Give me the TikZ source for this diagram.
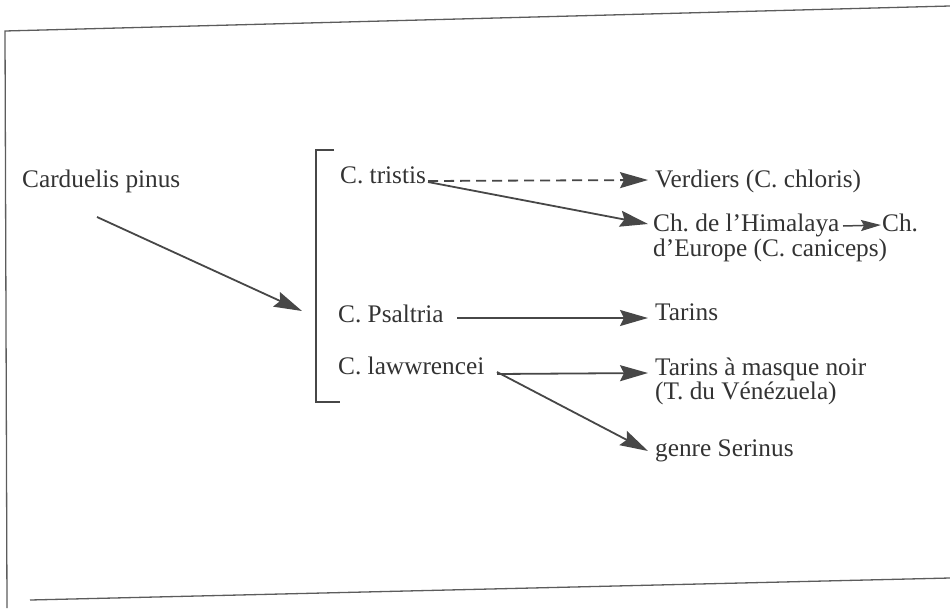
\documentclass[tikz,border=0pt]{standalone}
\usepackage{fontspec}
\setmainfont{Liberation Serif}
\usetikzlibrary{arrows.meta}
\definecolor{ink}{HTML}{333333}
\definecolor{wire}{HTML}{474747}
\frenchspacing
\begin{document}
\begin{tikzpicture}[x=1pt,y=-1pt,
  lbl/.style={anchor=base west,inner sep=0pt,text=ink,font=\fontsize{25.3}{27}\selectfont},
  link/.style={draw=wire,line width=1.8pt,-{Stealth[length=28pt,width=16pt,inset=4pt]}},
  frame/.style={draw=ink!80,line width=1.3pt}]
\useasboundingbox (0,0) rectangle (950,613);
% slightly skewed outer frame
\draw[frame] (950,6) -- (5,31) -- (7,608);
\draw[frame] (30,600) -- (950,578);

% labels
\node[lbl] (cp) at (22,187) {Carduelis pinus};
\node[lbl] (tri) at (340,183) {C. tristis};
\node[lbl] (ver) at (655,187) {Verdiers (C. chloris)};
\node[lbl] (him) at (653,231) {Ch. de l'Himalaya};
\node[lbl] (che) at (882,231) {Ch.};
\node[lbl] (eur) at (653,256) {d'Europe (C. caniceps)};
\node[lbl] (psa) at (338,322) {C. Psaltria};
\node[lbl] (tar) at (655,320) {Tarins};
\node[lbl] (law) at (338,374) {C. lawwrencei};
\node[lbl] (mas) at (655,375) {Tarins à masque noir};
\node[lbl] (ven) at (655,399) {(T. du Vénézuela)};
\node[lbl] (ser) at (655,456) {genre Serinus};

% bracket grouping the three species
\coordinate (bt) at (316,150);
\coordinate (bb) at (316,402);
\draw[draw=wire,line width=1.9pt] ([xshift=18pt]bt) -- (bt) -- (bb) -- ([xshift=24pt]bb);

% connector end points
\coordinate (cpS) at (97,217);
\coordinate (cpE) at (302,311);
\coordinate (triS) at (428,181);
\coordinate (triS2) at (428,182);
\coordinate (verE) at (648,180);
\coordinate (himE) at (648,224);
\coordinate (himS) at (843,226);
\coordinate (cheE) at (881,225);
\coordinate (psaS) at (457,318);
\coordinate (tarE) at (648,318);
\coordinate (lawS) at (497,374);
\coordinate (masE) at (648,373);
\coordinate (serE) at (648,451);

\draw[link] (cpS) -- (cpE);
\draw[link,dash pattern=on 10pt off 6pt] (triS) -- (verE);
\draw[link] (triS2) -- (himE);
\draw[link,line width=1.5pt,-{Stealth[length=20pt,width=11pt,inset=3pt]}] (himS) -- (cheE);
\draw[link] (psaS) -- (tarE);
\draw[link] (lawS) -- (masE);
\draw[link] ([yshift=2pt]lawS) -- (serE);
\end{tikzpicture}
\end{document}
